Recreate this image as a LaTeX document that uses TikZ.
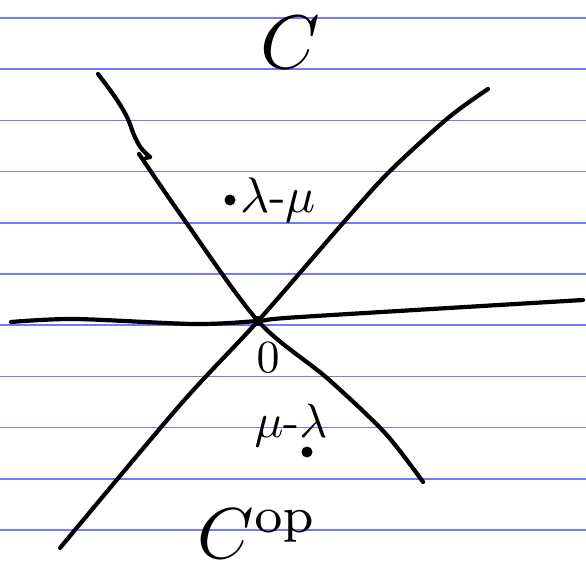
\documentclass[tikz,border=0pt]{standalone}
\definecolor{rulecol}{RGB}{120,120,245}
\tikzset{
  rule/.style={draw=rulecol, line width=1.6pt},
  ink/.style={draw=black, line width=4.2pt, line cap=round, line join=round},
  inkdot/.style={fill=black},
  lbl/.style={inner sep=0pt, text=black}
}
\begin{document}
\begin{tikzpicture}[x=1pt,y=-1pt]
\useasboundingbox (0,0) rectangle (586,575);
\fill[white] (0,0) rectangle (586,575);
\foreach \i in {0,...,10} {
  \draw[rule] (0,{18+51.2*\i}) -- (586,{18+51.2*\i});
}
% horizontal axis
\draw[ink] plot[smooth, tension=0.5] coordinates {(11,322) (75,319) (194,324) (258,321) (300,317) (583,300)};
% left diagonal, upper stroke with hook
\draw[ink] plot[smooth, tension=0.6] coordinates {(98,74) (115,97) (127,117) (134,135) (141,148) (150,157)};
\draw[ink] (150,157) -- (146,158);
% left diagonal, main stroke
\draw[ink] plot[smooth, tension=0.5] coordinates {(139,154) (183,218) (258,321) (327,378) (385,433) (423,482)};
% right diagonal
\draw[ink] plot[smooth, tension=0.5] coordinates {(488,89) (448,118) (389,172) (343,223) (258,321) (180,405) (60,548)};
% origin blob
\fill[inkdot] (258,321) circle (5);
% dots
\fill[inkdot] (230,200) circle (5.5);
\fill[inkdot] (307,452) circle (5.5);
% labels
\node[lbl] (cat) at (290,43) {\scalebox{7.6}{$C$}};
\node[lbl] (lm) at (278,200) {\scalebox{5}{$\lambda\mbox{-}\mu$}};
\node[lbl] (zero) at (268,358) {\scalebox{4.6}{$0$}};
\node[lbl] (ml) at (291,425) {\scalebox{4.8}{$\mu\mbox{-}\lambda$}};
\node[lbl] (catop) at (258,534) {\scalebox{7.2}{$C^{\mathrm{op}}$}};
\end{tikzpicture}
\end{document}
